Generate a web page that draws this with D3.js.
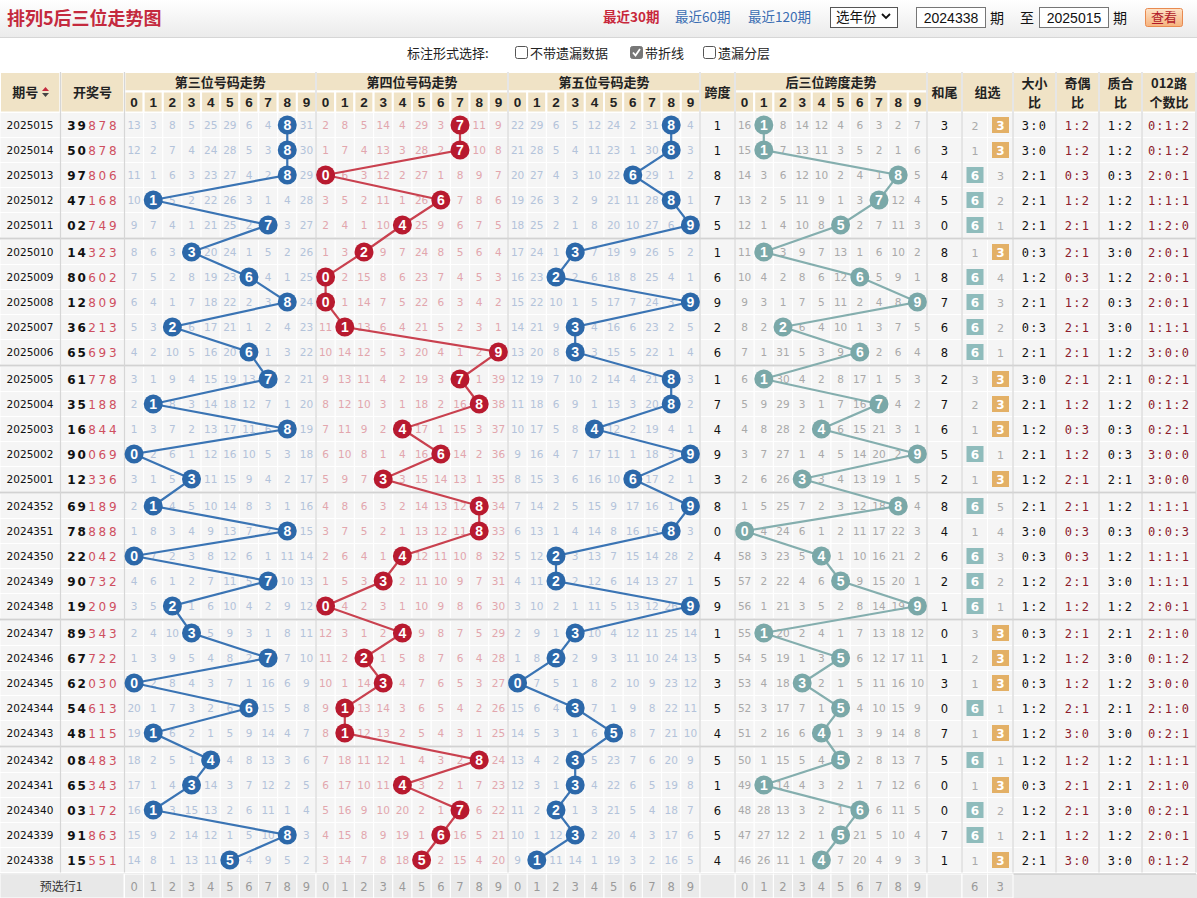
<!DOCTYPE html>
<html><head><meta charset="utf-8">
<script src="https://cdn.jsdelivr.net/npm/d3@7"></script>
<style>
body{margin:0;background:#fff;}
svg{display:block;}
</style>
</head><body>
<svg id="c" width="1197" height="898"></svg>
<script>
const periods = ["2025015","2025014","2025013","2025012","2025011","2025010","2025009","2025008","2025007","2025006",
"2025005","2025004","2025003","2025002","2025001","2024352","2024351","2024350","2024349","2024348",
"2024347","2024346","2024345","2024344","2024343","2024342","2024341","2024340","2024339","2024338"];
const draws = ["39878","50878","97806","47168","02749","14323","80602","12809","36213","65693",
"61778","35188","16844","90069","12336","69189","78888","22042","90732","19209",
"89343","67722","62030","54613","48115","08483","65343","03172","91863","15551"];
const spans = [1,1,8,7,5,1,6,9,2,6,1,7,4,9,3,8,0,4,5,9,1,5,3,5,4,5,1,6,5,4];
const sumTails = [3,3,4,5,0,8,8,7,6,8,2,7,6,5,2,8,4,6,2,1,0,1,3,0,7,5,0,0,7,1];
const zu6Miss = [2,1,0,0,0,1,0,0,0,0,3,2,1,0,1,0,1,0,0,0,3,2,1,0,1,0,1,0,0,1];
const zu3Miss = [0,0,3,2,1,0,4,3,2,1,0,0,0,1,0,5,4,3,2,1,0,0,0,1,0,1,0,2,1,0];
const bigSmall = ["3:0","3:0","2:1","2:1","2:1","0:3","1:2","2:1","0:3","2:1","3:0","2:1","1:2","2:1","1:2","2:1","3:0","0:3","1:2","1:2","0:3","1:2","0:3","1:2","1:2","1:2","0:3","1:2","2:1","2:1"];
const oddEven = ["1:2","1:2","0:3","1:2","2:1","2:1","0:3","1:2","2:1","2:1","2:1","1:2","0:3","1:2","2:1","2:1","0:3","0:3","2:1","1:2","2:1","1:2","1:2","2:1","3:0","1:2","2:1","2:1","1:2","3:0"];
const primeComp = ["1:2","1:2","0:3","1:2","1:2","3:0","1:2","0:3","3:0","1:2","2:1","1:2","0:3","0:3","2:1","1:2","0:3","1:2","3:0","1:2","2:1","3:0","1:2","2:1","3:0","1:2","2:1","3:0","1:2","3:0"];
const road012 = ["0:1:2","0:1:2","2:0:1","1:1:1","1:2:0","2:0:1","2:0:1","2:0:1","1:1:1","3:0:0","0:2:1","0:1:2","0:2:1","3:0:0","3:0:0","1:1:1","0:0:3","1:1:1","1:1:1","2:0:1","2:1:0","0:1:2","3:0:0","2:1:0","0:2:1","1:1:1","2:1:0","0:2:1","2:0:1","0:1:2"];
const digitTicks = ["0","1","2","3","4","5","6","7","8","9"];
const missP3 = [
[13,3,8,5,25,29,6,4,0,31],[12,2,7,4,24,28,5,3,0,30],[11,1,6,3,23,27,4,2,0,29],[10,0,5,2,22,26,3,1,4,28],[9,7,4,1,21,25,2,0,3,27],
[8,6,3,0,20,24,1,5,2,26],[7,5,2,8,19,23,0,4,1,25],[6,4,1,7,18,22,2,3,0,24],[5,3,0,6,17,21,1,2,4,23],[4,2,10,5,16,20,0,1,3,22],
[3,1,9,4,15,19,13,0,2,21],[2,0,8,3,14,18,12,7,1,20],[1,3,7,2,13,17,11,6,0,19],[0,2,6,1,12,16,10,5,3,18],[3,1,5,0,11,15,9,4,2,17],
[2,0,4,5,10,14,8,3,1,16],[1,8,3,4,9,13,7,2,0,15],[0,7,2,3,8,12,6,1,11,14],[4,6,1,2,7,11,5,0,10,13],[3,5,0,1,6,10,4,2,9,12],
[2,4,10,0,5,9,3,1,8,11],[1,3,9,5,4,8,2,0,7,10],[0,2,8,4,3,7,1,16,6,9],[20,1,7,3,2,6,0,15,5,8],[19,0,6,2,1,5,9,14,4,7],
[18,2,5,1,0,4,8,13,3,6],[17,1,4,0,14,3,7,12,2,5],[16,0,3,15,13,2,6,11,1,4],[15,9,2,14,12,1,5,10,0,3],[14,8,1,13,11,0,4,9,5,2]];
const missP4 = [
[2,8,5,14,4,29,3,0,11,9],[1,7,4,13,3,28,2,0,10,8],[0,6,3,12,2,27,1,8,9,7],[3,5,2,11,1,26,0,7,8,6],[2,4,1,10,0,25,9,6,7,5],
[1,3,0,9,7,24,8,5,6,4],[0,2,15,8,6,23,7,4,5,3],[0,1,14,7,5,22,6,3,4,2],[11,0,13,6,4,21,5,2,3,1],[10,14,12,5,3,20,4,1,2,0],
[9,13,11,4,2,19,3,0,1,39],[8,12,10,3,1,18,2,16,0,38],[7,11,9,2,0,17,1,15,3,37],[6,10,8,1,4,16,0,14,2,36],[5,9,7,0,3,15,14,13,1,35],
[4,8,6,3,2,14,13,12,0,34],[3,7,5,2,1,13,12,11,0,33],[2,6,4,1,0,12,11,10,8,32],[1,5,3,0,2,11,10,9,7,31],[0,4,2,3,1,10,9,8,6,30],
[12,3,1,2,0,9,8,7,5,29],[11,2,0,1,5,8,7,6,4,28],[10,1,14,0,4,7,6,5,3,27],[9,0,13,14,3,6,5,4,2,26],[8,0,12,13,2,5,4,3,1,25],
[7,18,11,12,1,4,3,2,0,24],[6,17,10,11,0,3,2,1,7,23],[5,16,9,10,20,2,1,0,6,22],[4,15,8,9,19,1,0,16,5,21],[3,14,7,8,18,0,2,15,4,20]];
const missP5 = [
[22,29,6,5,12,24,2,31,0,4],[21,28,5,4,11,23,1,30,0,3],[20,27,4,3,10,22,0,29,1,2],[19,26,3,2,9,21,11,28,0,1],[18,25,2,1,8,20,10,27,6,0],
[17,24,1,0,7,19,9,26,5,2],[16,23,0,2,6,18,8,25,4,1],[15,22,10,1,5,17,7,24,3,0],[14,21,9,0,4,16,6,23,2,5],[13,20,8,0,3,15,5,22,1,4],
[12,19,7,10,2,14,4,21,0,3],[11,18,6,9,1,13,3,20,0,2],[10,17,5,8,0,12,2,19,4,1],[9,16,4,7,17,11,1,18,3,0],[8,15,3,6,16,10,0,17,2,1],
[7,14,2,5,15,9,17,16,1,0],[6,13,1,4,14,8,16,15,0,3],[5,12,0,3,13,7,15,14,28,2],[4,11,0,2,12,6,14,13,27,1],[3,10,2,1,11,5,13,12,26,0],
[2,9,1,0,10,4,12,11,25,14],[1,8,0,2,9,3,11,10,24,13],[0,7,5,1,8,2,10,9,23,12],[15,6,4,0,7,1,9,8,22,11],[14,5,3,1,6,0,8,7,21,10],
[13,4,2,0,5,23,7,6,20,9],[12,3,1,0,4,22,6,5,19,8],[11,2,0,1,3,21,5,4,18,7],[10,1,12,0,2,20,4,3,17,6],[9,0,11,14,1,19,3,2,16,5]];
const missSpan = [
[16,0,8,14,12,4,6,3,2,7],[15,0,7,13,11,3,5,2,1,6],[14,3,6,12,10,2,4,1,0,5],[13,2,5,11,9,1,3,0,12,4],[12,1,4,10,8,0,2,7,11,3],
[11,0,3,9,7,13,1,6,10,2],[10,4,2,8,6,12,0,5,9,1],[9,3,1,7,5,11,2,4,8,0],[8,2,0,6,4,10,1,3,7,5],[7,1,31,5,3,9,0,2,6,4],
[6,0,30,4,2,8,17,1,5,3],[5,9,29,3,1,7,16,0,4,2],[4,8,28,2,0,6,15,21,3,1],[3,7,27,1,4,5,14,20,2,0],[2,6,26,0,3,4,13,19,1,5],
[1,5,25,7,2,3,12,18,0,4],[0,4,24,6,1,2,11,17,22,3],[58,3,23,5,0,1,10,16,21,2],[57,2,22,4,6,0,9,15,20,1],[56,1,21,3,5,2,8,14,19,0],
[55,0,20,2,4,1,7,13,18,12],[54,5,19,1,3,0,6,12,17,11],[53,4,18,0,2,1,5,11,16,10],[52,3,17,7,1,0,4,10,15,9],[51,2,16,6,0,1,3,9,14,8],
[50,1,15,5,4,0,2,8,13,7],[49,0,14,4,3,2,1,7,12,6],[48,28,13,3,2,1,0,6,11,5],[47,27,12,2,1,0,21,5,10,4],[46,26,11,1,0,7,20,4,9,3]];

const svg = d3.select("#c");
const CJK = '"Noto Sans CJK SC","Noto Sans",sans-serif';
const NUM = '"DejaVu Sans",Verdana,sans-serif';
const MONO = '"DejaVu Sans Mono","Liberation Mono",monospace';
const N = periods.length;

// ---------- top bar ----------
const defs = svg.append("defs");
const g1 = defs.append("linearGradient").attr("id","topg").attr("x1",0).attr("y1",0).attr("x2",0).attr("y2",1);
g1.append("stop").attr("offset","0%").attr("stop-color","#ffffff");
g1.append("stop").attr("offset","100%").attr("stop-color","#ebebeb");
const g2 = defs.append("linearGradient").attr("id","btng").attr("x1",0).attr("y1",0).attr("x2",0).attr("y2",1);
g2.append("stop").attr("offset","0%").attr("stop-color","#fde3c8");
g2.append("stop").attr("offset","100%").attr("stop-color","#f6b27c");
svg.append("rect").attr("x",0).attr("y",0).attr("width",1197).attr("height",37).attr("fill","url(#topg)");
svg.append("line").attr("x1",0).attr("x2",1197).attr("y1",37.5).attr("y2",37.5).attr("stroke","#d6d6d6");
svg.append("text").attr("x",7).attr("y",25).text("排列5后三位走势图")
  .attr("font-family",CJK).attr("font-size",18).attr("font-weight","bold").attr("fill","#c42a3e");
const links = [{t:"最近30期",x:603,c:"#c8283c",w:"bold"},{t:"最近60期",x:675,c:"#3a6db2",w:"normal"},{t:"最近120期",x:748,c:"#3a6db2",w:"normal"}];
svg.selectAll("text.lnk").data(links).join("text").attr("class","lnk").attr("x",d=>d.x).attr("y",22)
  .text(d=>d.t).attr("font-family",CJK).attr("font-size",13.5).attr("fill",d=>d.c).attr("font-weight",d=>d.w);
svg.append("rect").attr("x",830.5).attr("y",7.5).attr("width",67).attr("height",20).attr("fill","#fff").attr("stroke","#555");
svg.append("text").attr("x",836).attr("y",22).text("选年份").attr("font-family",CJK).attr("font-size",13.5).attr("fill","#111");
svg.append("path").attr("d","M882,14 L886,18 L890,14").attr("fill","none").attr("stroke","#111").attr("stroke-width",1.8);
const inputs = [{x:916.5,t:"2024338"},{x:1039.5,t:"2025015"}];
inputs.forEach(d=>{
  svg.append("rect").attr("x",d.x).attr("y",7.5).attr("width",69).attr("height",20).attr("fill","#fff").attr("stroke","#767676");
  svg.append("text").attr("x",d.x+34.5).attr("y",23).attr("text-anchor","middle").text(d.t)
    .attr("font-family",'"Liberation Sans",Arial,sans-serif').attr("font-size",14).attr("fill","#111");
});
[{x:990,t:"期"},{x:1020,t:"至"},{x:1113,t:"期"}].forEach(d=>{
  svg.append("text").attr("x",d.x).attr("y",23).text(d.t).attr("font-family",CJK).attr("font-size",14).attr("fill","#111");
});
svg.append("rect").attr("x",1145.5).attr("y",8.5).attr("width",37).attr("height",18).attr("fill","url(#btng)").attr("stroke","#e88a50").attr("rx",2);
svg.append("text").attr("x",1164).attr("y",22).attr("text-anchor","middle").text("查看").attr("font-family",CJK).attr("font-size",13).attr("fill","#b01828");

// ---------- options row ----------
svg.append("text").attr("x",407).attr("y",58).text("标注形式选择:").attr("font-family",CJK).attr("font-size",13).attr("fill","#222");
const opts = [{x:515,t:"不带遗漏数据",c:false},{x:630,t:"带折线",c:true},{x:703,t:"遗漏分层",c:false}];
opts.forEach(o=>{
  svg.append("rect").attr("x",o.x+0.5).attr("y",46.5).attr("width",12).attr("height",12).attr("rx",2)
    .attr("fill",o.c?"#777":"#fff").attr("stroke",o.c?"#777":"#555");
  if(o.c) svg.append("path").attr("d",`M${o.x+3},${52.5} L${o.x+5.5},${55.5} L${o.x+10},${49}`).attr("fill","none").attr("stroke","#fff").attr("stroke-width",1.8);
  svg.append("text").attr("x",o.x+15).attr("y",58).text(o.t).attr("font-family",CJK).attr("font-size",13).attr("fill","#222");
});

// ---------- scales ----------
const y = d3.scaleLinear().domain([0, N]).range([112.5, 112.5 + N*25]);
const gap = i => Math.floor(i/5)*2;
const rowTop = i => y(i) + gap(i);
const rowMid = i => y(i+0.5) + gap(i);

const sections = [
  {x0:124.5, x1:316, miss:missP3, vals:draws.map(d=>+d[2]), mc:"#b3c3da", cc:"#2c68a9", lc:"#3a74b4", title:"第三位号码走势"},
  {x0:316, x1:508, miss:missP4, vals:draws.map(d=>+d[3]), mc:"#e2a6ad", cc:"#b81a2f", lc:"#c9414f", title:"第四位号码走势"},
  {x0:508, x1:700, miss:missP5, vals:draws.map(d=>+d[4]), mc:"#b3c3da", cc:"#2c68a9", lc:"#3a74b4", title:"第五位号码走势"},
  {x0:735, x1:927, miss:missSpan, vals:spans, mc:"#a9a9a9", cc:"#7aa8a8", lc:"#84aeae", title:"后三位跨度走势"}
];
sections.forEach(s=>{ s.x = d3.scaleBand().domain(digitTicks).range([s.x0, s.x1]); });

const singleCols = [
  {key:"period", x0:0, x1:60.5, title:"期号"},
  {key:"draw", x0:60.5, x1:124.5, title:"开奖号"},
  {key:"span", x0:700, x1:735, title:"跨度"},
  {key:"tail", x0:927, x1:962, title:"和尾"},
  {key:"zu", x0:962, x1:1013, title:"组选"},
  {key:"dx", x0:1013, x1:1056, title:["大小","比"]},
  {key:"jo", x0:1056, x1:1099, title:["奇偶","比"]},
  {key:"zh", x0:1099, x1:1142, title:["质合","比"]},
  {key:"lu", x0:1142, x1:1196, title:["012路","个数比"]}
];

// ---------- header ----------
const H0 = 72, H1 = 91.5, H2 = 112.5;
const hdr = svg.append("g");
const hfill = "#f0e3c6";
singleCols.forEach(c=>{
  hdr.append("rect").attr("x",c.x0).attr("y",H0).attr("width",c.x1-c.x0).attr("height",H2-H0)
    .attr("fill",hfill).attr("stroke","#fff").attr("stroke-width",2);
  if(Array.isArray(c.title)){
    c.title.forEach((t,k)=>hdr.append("text").attr("x",(c.x0+c.x1)/2).attr("y",H0+16+k*19).attr("text-anchor","middle")
      .text(t).attr("font-family",CJK).attr("font-size",13).attr("font-weight","bold").attr("fill","#222"));
  } else {
    hdr.append("text").attr("x",(c.x0+c.x1)/2 - (c.key==="period"?5:0)).attr("y",(H0+H2)/2+5).attr("text-anchor","middle")
      .text(c.title).attr("font-family",CJK).attr("font-size",13).attr("font-weight","bold").attr("fill","#222");
  }
});
hdr.append("path").attr("d","M42,91 L45.5,87 L49,91 Z").attr("fill","#c42a3e");
hdr.append("path").attr("d","M42,93 L45.5,97 L49,93 Z").attr("fill","#444");
sections.forEach(s=>{
  hdr.append("rect").attr("x",s.x0).attr("y",H0).attr("width",s.x1-s.x0).attr("height",H1-H0)
    .attr("fill",hfill).attr("stroke","#fff").attr("stroke-width",2);
  hdr.append("text").attr("x",(s.x0+s.x1)/2).attr("y",H0+14.5).attr("text-anchor","middle").text(s.title)
    .attr("font-family",CJK).attr("font-size",13).attr("font-weight","bold").attr("fill","#222");
  hdr.selectAll(null).data(digitTicks).join("rect").attr("x",d=>s.x(d)).attr("y",H1).attr("width",s.x.bandwidth()).attr("height",H2-H1)
    .attr("fill",hfill).attr("stroke","#fff").attr("stroke-width",2);
  hdr.selectAll(null).data(digitTicks).join("text").attr("x",d=>s.x(d)+s.x.bandwidth()/2).attr("y",H1+15.5)
    .attr("text-anchor","middle").text(d=>d).attr("font-family",'"Liberation Sans",Arial,sans-serif')
    .attr("font-size",13.5).attr("font-weight","bold").attr("fill","#222");
});

// ---------- body cells ----------
const body = svg.append("g");
const cellFill = "#f5f5f5";
const rows = d3.range(N);
singleCols.forEach(c=>{
  if(c.key==="zu"){
    [0,1].forEach(k=>{
      body.selectAll(null).data(rows).join("rect").attr("x",c.x0+k*25.5).attr("y",i=>rowTop(i)).attr("width",25.5).attr("height",25)
        .attr("fill",cellFill).attr("stroke","#fff");
    });
  } else {
    body.selectAll(null).data(rows).join("rect").attr("x",c.x0).attr("y",i=>rowTop(i)).attr("width",c.x1-c.x0).attr("height",25)
      .attr("fill",cellFill).attr("stroke","#fff");
  }
});
sections.forEach(s=>{
  rows.forEach(i=>{
    body.selectAll(null).data(digitTicks).join("rect").attr("x",d=>s.x(d)).attr("y",rowTop(i)).attr("width",s.x.bandwidth()).attr("height",25)
      .attr("fill",cellFill).attr("stroke","#fff");
  });
});

// group separators
const seps = svg.append("g");
d3.range(1,6).forEach(k=>{
  const yy = rowTop(k*5) - 1;
  seps.append("line").attr("x1",0).attr("x2",1196).attr("y1",yy).attr("y2",yy).attr("stroke","#d2d2d2").attr("stroke-width",2);
});
[60.5,124.5,316,508,700,735,927,962,1013,1056,1099,1142,1196].forEach(xx=>{
  seps.append("line").attr("x1",xx).attr("x2",xx).attr("y1",H0).attr("y2",rowTop(N-1)+25).attr("stroke","#d6d6d6").attr("stroke-width",1.2);
});

// left columns text
body.selectAll(null).data(periods).join("text").attr("x",30).attr("y",(d,i)=>rowMid(i)+4).attr("text-anchor","middle")
  .text(d=>d).attr("font-family",NUM).attr("font-size",10.5).attr("fill","#111");
const drawDigits = draws.flatMap((d,i)=>d.split("").map((ch,k)=>({ch,k,i})));
body.selectAll(null).data(drawDigits).join("text").attr("x",d=>71.5+d.k*10.3).attr("y",d=>rowMid(d.i)+4.5)
  .attr("text-anchor","middle").text(d=>d.ch).attr("font-family",NUM).attr("font-size",12)
  .attr("font-weight",d=>d.k<2?"bold":"normal").attr("fill",d=>d.k<2?"#111":"#cf4f60");

// span column
body.selectAll(null).data(spans).join("text").attr("x",717.5).attr("y",(d,i)=>rowMid(i)+4.5).attr("text-anchor","middle")
  .text(d=>d).attr("font-family",NUM).attr("font-size",11.5).attr("fill","#111");
// sum tail
body.selectAll(null).data(sumTails).join("text").attr("x",944.5).attr("y",(d,i)=>rowMid(i)+4.5).attr("text-anchor","middle")
  .text(d=>d).attr("font-family",NUM).attr("font-size",11.5).attr("fill","#111");
// 组选
const zuCells = [{miss:zu6Miss, x:975, label:"6", c:"#8fbcbc"},{miss:zu3Miss, x:1000.5, label:"3", c:"#e3b066"}];
zuCells.forEach(z=>{
  rows.forEach(i=>{
    const m = z.miss[i];
    if(m===0){
      body.append("rect").attr("x",z.x-8.5).attr("y",rowMid(i)-8).attr("width",17).attr("height",16).attr("fill",z.c);
      body.append("text").attr("x",z.x).attr("y",rowMid(i)+4.5).attr("text-anchor","middle").text(z.label)
        .attr("font-family",NUM).attr("font-size",12).attr("font-weight","bold").attr("fill","#fff");
    } else {
      body.append("text").attr("x",z.x).attr("y",rowMid(i)+4.5).attr("text-anchor","middle").text(m)
        .attr("font-family",NUM).attr("font-size",11).attr("fill","#aaa");
    }
  });
});
// ratios
const ratioCols = [{d:bigSmall,x:1034.5,c:"#111"},{d:oddEven,x:1077.5,c:"#8c1c2c"},{d:primeComp,x:1120.5,c:"#111"},{d:road012,x:1169,c:"#8c1c2c"}];
ratioCols.forEach(r=>{
  body.selectAll(null).data(r.d).join("text").attr("x",r.x).attr("y",(d,i)=>rowMid(i)+4.5).attr("text-anchor","middle")
    .text(d=>d).attr("font-family",MONO).attr("font-size",12).attr("letter-spacing",1.2).attr("fill",r.c);
});

// ---------- trend sections ----------
const marks = svg.append("g");
sections.forEach(s=>{
  const cx = d => s.x(String(d)) + s.x.bandwidth()/2;
  rows.forEach(i=>{
    marks.selectAll(null).data(s.miss[i].map((m,k)=>({m,k})).filter(o=>o.m!==0)).join("text")
      .attr("x",o=>cx(o.k)).attr("y",rowMid(i)+4).attr("text-anchor","middle").text(o=>o.m)
      .attr("font-family",NUM).attr("font-size",10.5).attr("fill",s.mc);
  });
  const line = d3.line().x(d=>cx(d.v)).y(d=>rowMid(d.i));
  marks.append("path").datum(s.vals.map((v,i)=>({v,i}))).attr("d",line)
    .attr("fill","none").attr("stroke",s.lc).attr("stroke-width",2.2);
  marks.selectAll(null).data(s.vals.map((v,i)=>({v,i}))).join("circle")
    .attr("cx",d=>cx(d.v)).attr("cy",d=>rowMid(d.i)).attr("r",9.5).attr("fill",s.cc);
  marks.selectAll(null).data(s.vals.map((v,i)=>({v,i}))).join("text")
    .attr("x",d=>cx(d.v)).attr("y",d=>rowMid(d.i)+5).attr("text-anchor","middle").text(d=>d.v)
    .attr("font-family",'"Liberation Sans",Arial,sans-serif').attr("font-size",14).attr("font-weight","bold").attr("fill","#fff");
});

// ---------- footer ----------
const F0 = rowTop(N-1)+25+1.5, F1 = 898;
const foot = svg.append("g");
foot.append("rect").attr("x",0).attr("y",F0).attr("width",1197).attr("height",F1-F0).attr("fill","#e8e8e8");
foot.append("line").attr("x1",0).attr("x2",1196).attr("y1",F0).attr("y2",F0).attr("stroke","#d0d0d0").attr("stroke-width",1.5);
foot.append("text").attr("x",61).attr("y",(F0+F1)/2+4.5).attr("text-anchor","middle").text("预选行1")
  .attr("font-family",CJK).attr("font-size",12).attr("fill","#333");
sections.forEach(s=>{
  foot.selectAll(null).data(digitTicks).join("rect").attr("x",d=>s.x(d)).attr("y",F0).attr("width",s.x.bandwidth()).attr("height",F1-F0)
    .attr("fill","#eaeaea").attr("stroke","#fff");
  foot.selectAll(null).data(digitTicks).join("text").attr("x",d=>s.x(d)+s.x.bandwidth()/2).attr("y",(F0+F1)/2+4.5)
    .attr("text-anchor","middle").text(d=>d).attr("font-family",NUM).attr("font-size",11.5).attr("fill","#9a9a9a");
});
[{x0:700,x1:735},{x0:927,x1:962},{x0:962,x1:987.5,t:"6"},{x0:987.5,x1:1013,t:"3"}].forEach(c=>{
  foot.append("rect").attr("x",c.x0).attr("y",F0).attr("width",c.x1-c.x0).attr("height",F1-F0).attr("fill","#eaeaea").attr("stroke","#fff");
  if(c.t) foot.append("text").attr("x",(c.x0+c.x1)/2).attr("y",(F0+F1)/2+4.5).attr("text-anchor","middle").text(c.t)
    .attr("font-family",NUM).attr("font-size",11.5).attr("fill","#9a9a9a");
});
foot.append("rect").attr("x",0).attr("y",F0).attr("width",124).attr("height",F1-F0).attr("fill","none").attr("stroke","#fff");
</script>
</body></html>
